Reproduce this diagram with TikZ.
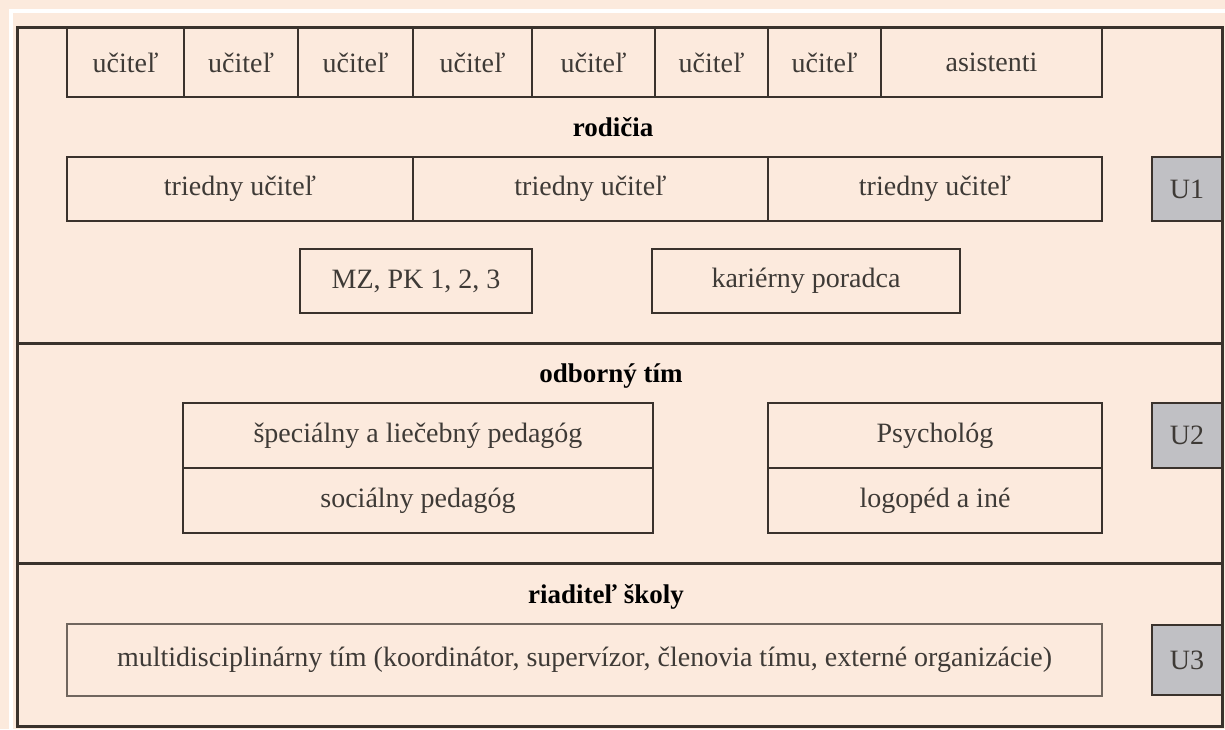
\documentclass[tikz,border=0pt]{standalone}
\usepackage{fontspec}
\setmainfont{Liberation Serif}
\usetikzlibrary{positioning}
\usepackage{xcolor}
\definecolor{peach}{RGB}{252,234,221}
\definecolor{framebrown}{RGB}{58,50,44}
\definecolor{softbrown}{RGB}{112,102,94}
\definecolor{ugray}{RGB}{192,192,196}
\definecolor{textgray}{RGB}{62,58,54}
\tikzset{cell/.style={rectangle, draw=framebrown, line width=2.5pt, fill=peach, text=textgray, inner sep=0pt, font=\fontsize{28}{32}\selectfont}}

\begin{document}
\begin{tikzpicture}[
        x=1pt, y=-1pt,
        line join=miter,
        topcell/.style={cell, minimum height=69pt},
        rowcell/.style={cell, minimum height=64pt},
        ubox/.style={cell, fill=ugray, line width=2pt, minimum width=70pt},
        heading/.style={inner sep=0pt, text=black, font=\fontsize{27}{32}\selectfont\bfseries}
    ]
        % Page
        \useasboundingbox (0, 0) rectangle (1225, 729);
        \fill[peach] (0, 0) rectangle (1225, 729);
        \fill[white] (9, 9) rectangle (1225, 13);
        \fill[white] (9, 9) rectangle (13, 729);
        \fill[peach] (17, 27) rectangle (1222, 726);
        % Top row
        \foreach \l/\r [count=\i] in {
            67/184,
            184/298,
            298/413,
            413/532,
            532/655,
            655/768,
            768/881} {
            \node[topcell, minimum width={(\r-\l)*1pt}] (ucitel\i) at ({(\l+\r)/2}, 62.5) {učiteľ};
        }
        \node[topcell, minimum width=221pt] (asistenti) at (991.5, 62.5) {asistenti};
        \node[heading] (rodicia) at (613, 127) {rodičia};
        % Class teachers
        \foreach \l/\r [count=\i] in {
            67/413,
            413/768,
            768/1102} {
            \node[rowcell, minimum width={(\r-\l)*1pt}] (triedny\i) at ({(\l+\r)/2}, 189) {triedny učiteľ};
        }
        \node[rowcell, minimum width=232pt] (mzpk) at (416, 281) {MZ, PK 1, 2, 3};
        \node[rowcell, minimum width=308pt] (kariera) at (806, 281) {kariérny poradca};
        \node[ubox, minimum height=64pt] (u1) at (1187, 189) {U1};
        % Expert team
        \node[heading] (odborny) at (611, 376) {odborný tím};
        \node[cell, minimum width=470pt, minimum height=65pt] (specialny) at (418, 435.5) {špeciálny a liečebný pedagóg};
        \node[cell, minimum width=470pt, minimum height=65pt] (socialny) at (418, 500.5) {sociálny pedagóg};
        \node[cell, minimum width=334pt, minimum height=65pt] (psycholog) at (935, 435.5) {Psychológ};
        \node[cell, minimum width=334pt, minimum height=65pt] (logoped) at (935, 500.5) {logopéd a iné};
        \node[ubox, minimum height=65pt] (u2) at (1187, 435.5) {U2};
        % Headmaster
        \node[heading] (riaditel) at (606, 597) {riaditeľ školy};
        \node[cell, draw=softbrown, line width=2pt, minimum width=1035pt, minimum height=72pt] (multi) at (584.5, 660) {multidisciplinárny tím (koordinátor, supervízor, členovia tímu, externé organizácie)};
        \node[ubox, minimum height=70pt] (u3) at (1187, 660) {U3};
        % Frame
        \draw[framebrown, line width=3pt] (17, 27) rectangle (1222, 726);
        \draw[framebrown, line width=3pt] (17, 343) -- (1222, 343);
        \draw[framebrown, line width=3pt] (17, 563) -- (1222, 563);
    \end{tikzpicture}
\end{document}
